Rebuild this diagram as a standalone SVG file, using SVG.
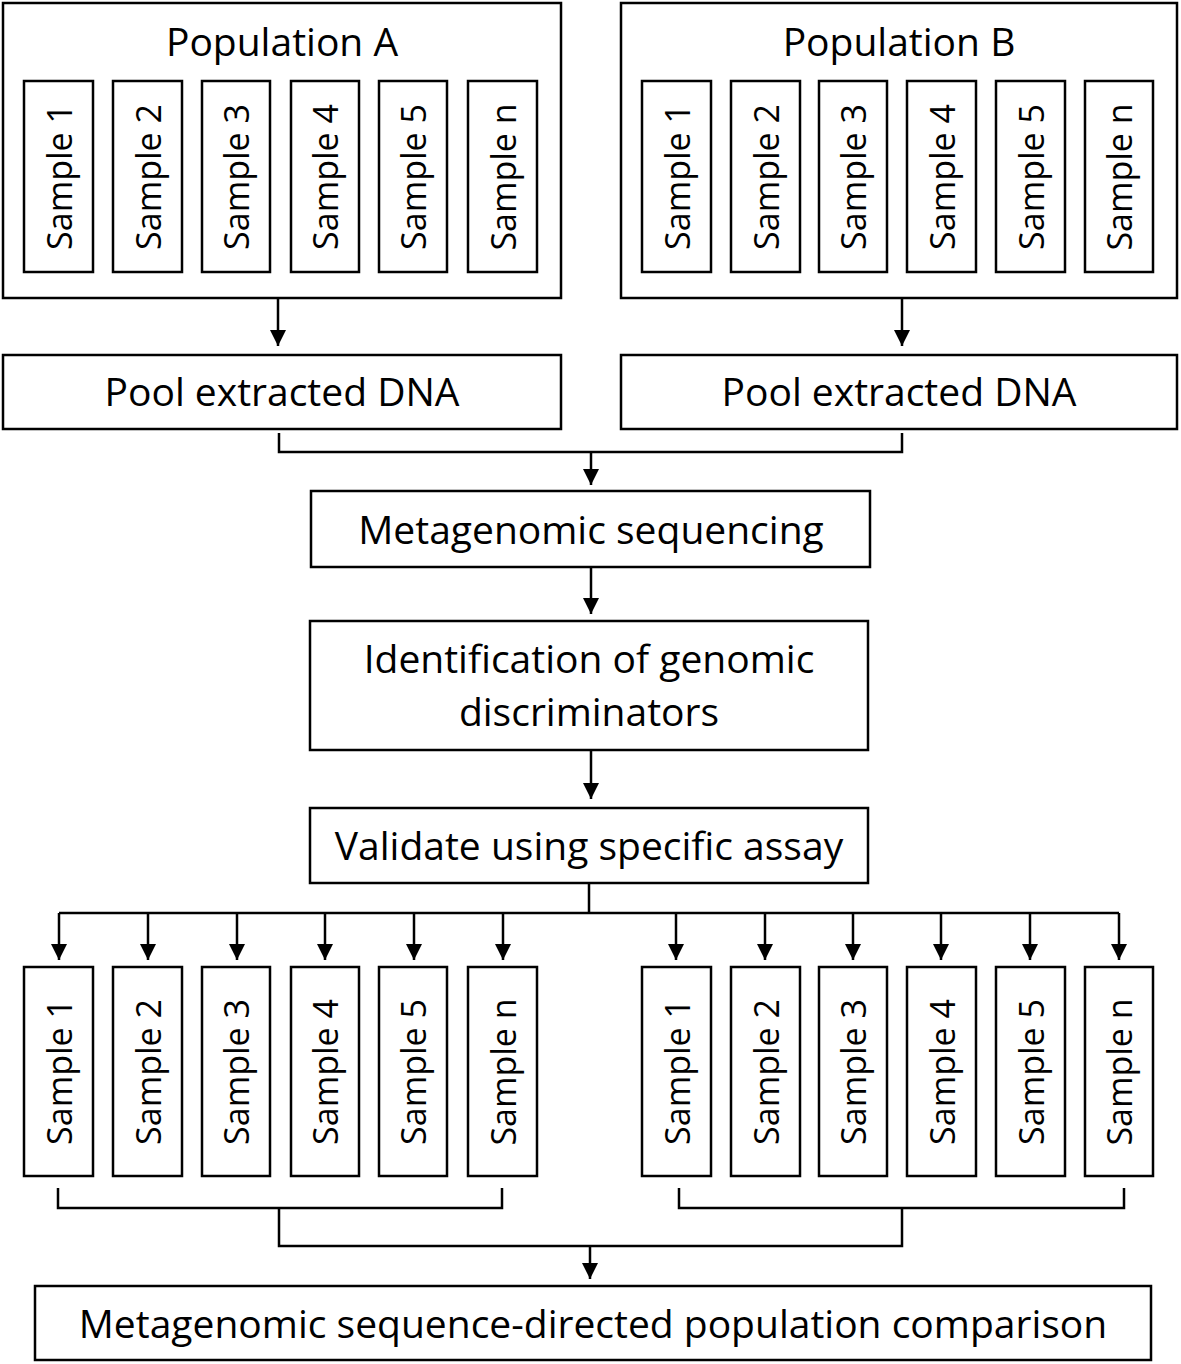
<svg xmlns="http://www.w3.org/2000/svg" width="1181" height="1364" viewBox="0 0 1181 1364">
<defs>
<style>
rect{fill:#fff;stroke:#000;stroke-width:2.5}
text{font-family:"Open Sans","Noto Sans","DejaVu Sans",sans-serif;font-size:39px;fill:#000;text-anchor:middle}
.s{dominant-baseline:central;font-size:34px}
.c path,.c line{fill:none;stroke:#000;stroke-width:2.5}
</style>
<marker id="ah" viewBox="0 0 16 16" refX="16" refY="8" markerWidth="16" markerHeight="16" markerUnits="userSpaceOnUse" orient="auto">
<path d="M0,0 L16,8 L0,16 z" fill="#000"/>
</marker>
</defs>
<rect x="0" y="0" width="1181" height="1364" style="fill:#fff;stroke:none"/>

<g id="popA">
<rect x="3" y="3" width="558" height="295"/>
<text x="282" y="56">Population A</text>
<g id="popA-s1"><rect x="24" y="81" width="69" height="191"/><text class="s" transform="translate(58.5,177) rotate(-90)">Sample 1</text></g>
<g id="popA-s2"><rect x="113" y="81" width="69" height="191"/><text class="s" transform="translate(147.5,177) rotate(-90)">Sample 2</text></g>
<g id="popA-s3"><rect x="202" y="81" width="68" height="191"/><text class="s" transform="translate(236,177) rotate(-90)">Sample 3</text></g>
<g id="popA-s4"><rect x="291" y="81" width="68" height="191"/><text class="s" transform="translate(325,177) rotate(-90)">Sample 4</text></g>
<g id="popA-s5"><rect x="379" y="81" width="68" height="191"/><text class="s" transform="translate(413,177) rotate(-90)">Sample 5</text></g>
<g id="popA-sn"><rect x="468" y="81" width="69" height="191"/><text class="s" transform="translate(502.5,177) rotate(-90)">Sample n</text></g>
</g>

<g id="popB">
<rect x="621" y="3" width="556" height="295"/>
<text x="899" y="56">Population B</text>
<g id="popB-s1"><rect x="642" y="81" width="69" height="191"/><text class="s" transform="translate(676.5,177) rotate(-90)">Sample 1</text></g>
<g id="popB-s2"><rect x="731" y="81" width="69" height="191"/><text class="s" transform="translate(765.5,177) rotate(-90)">Sample 2</text></g>
<g id="popB-s3"><rect x="819" y="81" width="68" height="191"/><text class="s" transform="translate(853,177) rotate(-90)">Sample 3</text></g>
<g id="popB-s4"><rect x="907" y="81" width="69" height="191"/><text class="s" transform="translate(941.5,177) rotate(-90)">Sample 4</text></g>
<g id="popB-s5"><rect x="996" y="81" width="69" height="191"/><text class="s" transform="translate(1030.5,177) rotate(-90)">Sample 5</text></g>
<g id="popB-sn"><rect x="1085" y="81" width="68" height="191"/><text class="s" transform="translate(1119,177) rotate(-90)">Sample n</text></g>
</g>

<g id="poolA"><rect x="3" y="355" width="558" height="74"/><text x="282" y="406">Pool extracted DNA</text></g>
<g id="poolB"><rect x="621" y="355" width="556" height="74"/><text x="899" y="406">Pool extracted DNA</text></g>

<g id="seq"><rect x="311" y="491" width="559" height="76"/><text x="591" y="544">Metagenomic sequencing</text></g>
<g id="ident"><rect x="310" y="621" width="558" height="129"/><text x="589" y="673">Identification of genomic</text><text x="589" y="726">discriminators</text></g>
<g id="valid"><rect x="310" y="808" width="558" height="75"/><text x="589" y="860">Validate using specific assay</text></g>

<g id="outA">
<g id="outA-s1"><rect x="24" y="967" width="69" height="209"/><text class="s" transform="translate(58.5,1072) rotate(-90)">Sample 1</text></g>
<g id="outA-s2"><rect x="113" y="967" width="69" height="209"/><text class="s" transform="translate(147.5,1072) rotate(-90)">Sample 2</text></g>
<g id="outA-s3"><rect x="202" y="967" width="68" height="209"/><text class="s" transform="translate(236,1072) rotate(-90)">Sample 3</text></g>
<g id="outA-s4"><rect x="291" y="967" width="68" height="209"/><text class="s" transform="translate(325,1072) rotate(-90)">Sample 4</text></g>
<g id="outA-s5"><rect x="379" y="967" width="68" height="209"/><text class="s" transform="translate(413,1072) rotate(-90)">Sample 5</text></g>
<g id="outA-sn"><rect x="468" y="967" width="69" height="209"/><text class="s" transform="translate(502.5,1072) rotate(-90)">Sample n</text></g>
</g>
<g id="outB">
<g id="outB-s1"><rect x="642" y="967" width="69" height="209"/><text class="s" transform="translate(676.5,1072) rotate(-90)">Sample 1</text></g>
<g id="outB-s2"><rect x="731" y="967" width="69" height="209"/><text class="s" transform="translate(765.5,1072) rotate(-90)">Sample 2</text></g>
<g id="outB-s3"><rect x="819" y="967" width="68" height="209"/><text class="s" transform="translate(853,1072) rotate(-90)">Sample 3</text></g>
<g id="outB-s4"><rect x="907" y="967" width="69" height="209"/><text class="s" transform="translate(941.5,1072) rotate(-90)">Sample 4</text></g>
<g id="outB-s5"><rect x="996" y="967" width="69" height="209"/><text class="s" transform="translate(1030.5,1072) rotate(-90)">Sample 5</text></g>
<g id="outB-sn"><rect x="1085" y="967" width="68" height="209"/><text class="s" transform="translate(1119,1072) rotate(-90)">Sample n</text></g>
</g>

<g id="final"><rect x="35" y="1286" width="1116" height="74"/><text x="593" y="1338">Metagenomic sequence-directed population comparison</text></g>

<g id="connectors" class="c">
<line x1="278" y1="298" x2="278" y2="346" marker-end="url(#ah)"/>
<line x1="902" y1="298" x2="902" y2="346" marker-end="url(#ah)"/>
<path d="M279,433 V452 H902 V433"/>
<line x1="591" y1="452" x2="591" y2="485" marker-end="url(#ah)"/>
<line x1="591" y1="567" x2="591" y2="614" marker-end="url(#ah)"/>
<line x1="591" y1="750" x2="591" y2="799" marker-end="url(#ah)"/>
<path d="M589,883 V913 M59,913 H1119"/>
<line x1="59" y1="913" x2="59" y2="960" marker-end="url(#ah)"/>
<line x1="148" y1="913" x2="148" y2="960" marker-end="url(#ah)"/>
<line x1="237" y1="913" x2="237" y2="960" marker-end="url(#ah)"/>
<line x1="325" y1="913" x2="325" y2="960" marker-end="url(#ah)"/>
<line x1="414" y1="913" x2="414" y2="960" marker-end="url(#ah)"/>
<line x1="503" y1="913" x2="503" y2="960" marker-end="url(#ah)"/>
<line x1="676" y1="913" x2="676" y2="960" marker-end="url(#ah)"/>
<line x1="765" y1="913" x2="765" y2="960" marker-end="url(#ah)"/>
<line x1="853" y1="913" x2="853" y2="960" marker-end="url(#ah)"/>
<line x1="941" y1="913" x2="941" y2="960" marker-end="url(#ah)"/>
<line x1="1030" y1="913" x2="1030" y2="960" marker-end="url(#ah)"/>
<line x1="1119" y1="913" x2="1119" y2="960" marker-end="url(#ah)"/>
<path d="M58,1188 V1208 H502 V1188"/>
<path d="M679,1188 V1208 H1124 V1188"/>
<path d="M279,1208 V1246 H902 V1208"/>
<line x1="590" y1="1246" x2="590" y2="1279" marker-end="url(#ah)"/>
</g>
</svg>
